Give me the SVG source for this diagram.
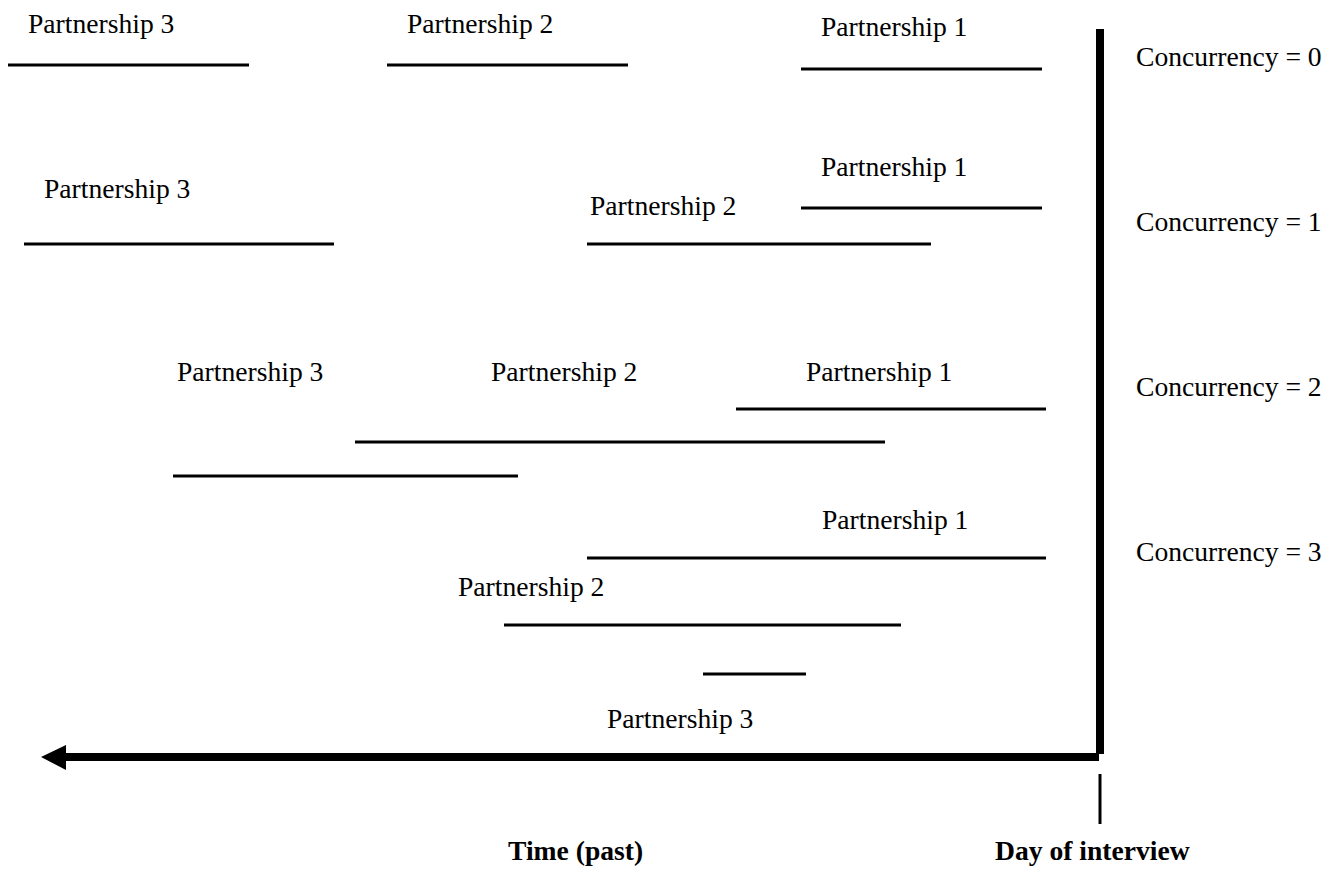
<svg xmlns="http://www.w3.org/2000/svg" width="1342" height="872" viewBox="0 0 1342 872">
<style>
text{font-family:"Liberation Serif","Times New Roman",serif;font-size:27.6px;fill:#000}
.b{font-weight:bold}
.p{stroke:#000;stroke-width:3;fill:none}
.ax{stroke:#000;stroke-width:8;fill:none}
</style>
<rect width="1342" height="872" fill="#fff"/>
<g id="row0">
<text x="28" y="33">Partnership 3</text>
<text x="407" y="33">Partnership 2</text>
<text x="821" y="36">Partnership 1</text>
<text x="1136" y="66">Concurrency = 0</text>
</g>
<g id="row1">
<text x="44" y="198">Partnership 3</text>
<text x="821" y="176">Partnership 1</text>
<text x="590" y="215">Partnership 2</text>
<text x="1136" y="231">Concurrency = 1</text>
</g>
<g id="row2">
<text x="177" y="381">Partnership 3</text>
<text x="491" y="381">Partnership 2</text>
<text x="806" y="381">Partnership 1</text>
<text x="1136" y="396">Concurrency = 2</text>
</g>
<g id="row3">
<text x="822" y="529">Partnership 1</text>
<text x="458" y="596">Partnership 2</text>
<text x="607" y="728">Partnership 3</text>
<text x="1136" y="561">Concurrency = 3</text>
</g>
<g id="labels">
<text class="b" x="508" y="860">Time (past)</text>
<text class="b" x="995" y="860">Day of interview</text>
</g>
<g id="connectors">
<line class="p" x1="8" y1="65" x2="249" y2="65"/>
<line class="p" x1="387" y1="65" x2="628" y2="65"/>
<line class="p" x1="801" y1="69" x2="1042" y2="69"/>
<line class="p" x1="801" y1="208" x2="1042" y2="208"/>
<line class="p" x1="24" y1="244" x2="334" y2="244"/>
<line class="p" x1="587" y1="244" x2="931" y2="244"/>
<line class="p" x1="736" y1="409" x2="1046" y2="409"/>
<line class="p" x1="355" y1="442" x2="885" y2="442"/>
<line class="p" x1="173" y1="476" x2="518" y2="476"/>
<line class="p" x1="587" y1="558" x2="1046" y2="558"/>
<line class="p" x1="504" y1="625" x2="901" y2="625"/>
<line class="p" x1="703" y1="674" x2="806" y2="674"/>
<line class="ax" x1="1100" y1="29" x2="1100" y2="754"/>
<line class="ax" x1="1099" y1="757" x2="64" y2="757"/>
<polygon points="41,757 66,745 66,770" fill="#000"/>
<line stroke="#000" stroke-width="3" x1="1100" y1="774" x2="1100" y2="824"/>
</g>
</svg>
